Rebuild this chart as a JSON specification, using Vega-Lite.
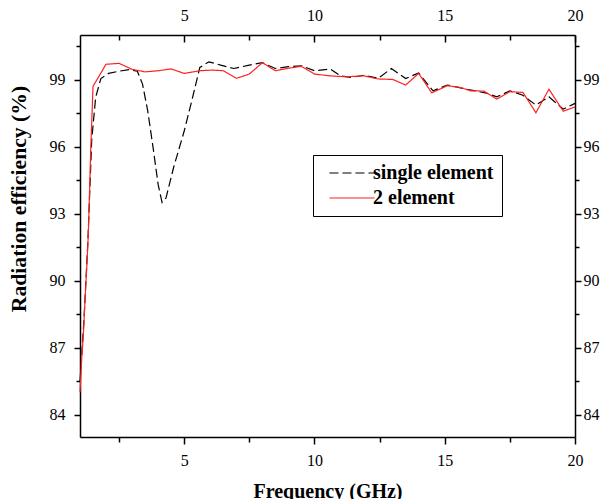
{
  "$schema": "https://vega.github.io/schema/vega-lite/v6.json",
  "width": 495,
  "height": 402,
  "autosize": {"type": "none"},
  "padding": {"left": 80, "top": 35, "right": 27, "bottom": 62},
  "background": "white",
  "config": {
    "view": {"stroke": null},
    "axis": {
      "grid": false,
      "domainColor": "black",
      "domainWidth": 1.5,
      "tickColor": "black",
      "tickWidth": 1.5,
      "labelFont": "Liberation Serif",
      "labelFontSize": 16,
      "labelColor": "black",
      "labelFlush": false,
      "labelOverlap": false,
      "titleFont": "Liberation Serif",
      "titleFontSize": 20,
      "titleFontWeight": "bold",
      "titleColor": "black"
    },
    "legend": {
      "labelFont": "Liberation Serif",
      "labelFontSize": 20,
      "labelFontWeight": "bold",
      "labelColor": "black"
    }
  },
  "data": {
    "values": [
      {"f": 1.0, "e": 85.5, "s": "single element"},
      {"f": 1.15, "e": 88.2, "s": "single element"},
      {"f": 1.3, "e": 91.7, "s": "single element"},
      {"f": 1.45, "e": 96.3, "s": "single element"},
      {"f": 1.6, "e": 98.2, "s": "single element"},
      {"f": 1.8, "e": 99.05, "s": "single element"},
      {"f": 2.1, "e": 99.28, "s": "single element"},
      {"f": 2.5, "e": 99.38, "s": "single element"},
      {"f": 2.9, "e": 99.45, "s": "single element"},
      {"f": 3.2, "e": 99.38, "s": "single element"},
      {"f": 3.4, "e": 98.8, "s": "single element"},
      {"f": 3.6, "e": 97.6, "s": "single element"},
      {"f": 3.8, "e": 96.0, "s": "single element"},
      {"f": 4.0, "e": 94.3, "s": "single element"},
      {"f": 4.15, "e": 93.5, "s": "single element"},
      {"f": 4.3, "e": 93.7, "s": "single element"},
      {"f": 4.6, "e": 95.1, "s": "single element"},
      {"f": 5.0, "e": 96.7, "s": "single element"},
      {"f": 5.3, "e": 98.1, "s": "single element"},
      {"f": 5.6, "e": 99.55, "s": "single element"},
      {"f": 5.95, "e": 99.8, "s": "single element"},
      {"f": 6.4, "e": 99.65, "s": "single element"},
      {"f": 6.9, "e": 99.5, "s": "single element"},
      {"f": 7.5, "e": 99.65, "s": "single element"},
      {"f": 8.0, "e": 99.76, "s": "single element"},
      {"f": 8.5, "e": 99.5, "s": "single element"},
      {"f": 9.0, "e": 99.58, "s": "single element"},
      {"f": 9.5, "e": 99.62, "s": "single element"},
      {"f": 10.0, "e": 99.4, "s": "single element"},
      {"f": 10.6, "e": 99.48, "s": "single element"},
      {"f": 11.0, "e": 99.17, "s": "single element"},
      {"f": 11.4, "e": 99.1, "s": "single element"},
      {"f": 11.9, "e": 99.2, "s": "single element"},
      {"f": 12.45, "e": 99.06, "s": "single element"},
      {"f": 12.95, "e": 99.5, "s": "single element"},
      {"f": 13.5, "e": 99.05, "s": "single element"},
      {"f": 14.0, "e": 99.3, "s": "single element"},
      {"f": 14.55, "e": 98.5, "s": "single element"},
      {"f": 15.1, "e": 98.76, "s": "single element"},
      {"f": 15.8, "e": 98.58, "s": "single element"},
      {"f": 16.6, "e": 98.4, "s": "single element"},
      {"f": 17.0, "e": 98.23, "s": "single element"},
      {"f": 17.5, "e": 98.5, "s": "single element"},
      {"f": 18.0, "e": 98.3, "s": "single element"},
      {"f": 18.5, "e": 97.86, "s": "single element"},
      {"f": 19.0, "e": 98.23, "s": "single element"},
      {"f": 19.55, "e": 97.68, "s": "single element"},
      {"f": 20.0, "e": 97.94, "s": "single element"},
      {"f": 1.0, "e": 85.0, "s": "2 element"},
      {"f": 1.07, "e": 86.6, "s": "2 element"},
      {"f": 1.13, "e": 87.6, "s": "2 element"},
      {"f": 1.2, "e": 89.3, "s": "2 element"},
      {"f": 1.26, "e": 90.6, "s": "2 element"},
      {"f": 1.32, "e": 92.1, "s": "2 element"},
      {"f": 1.41, "e": 95.8, "s": "2 element"},
      {"f": 1.5, "e": 98.7, "s": "2 element"},
      {"f": 2.0, "e": 99.69, "s": "2 element"},
      {"f": 2.5, "e": 99.73, "s": "2 element"},
      {"f": 3.0, "e": 99.46, "s": "2 element"},
      {"f": 3.5, "e": 99.35, "s": "2 element"},
      {"f": 4.0, "e": 99.4, "s": "2 element"},
      {"f": 4.5, "e": 99.48, "s": "2 element"},
      {"f": 5.0, "e": 99.28, "s": "2 element"},
      {"f": 5.6, "e": 99.4, "s": "2 element"},
      {"f": 6.1, "e": 99.43, "s": "2 element"},
      {"f": 6.5, "e": 99.4, "s": "2 element"},
      {"f": 7.0, "e": 99.06, "s": "2 element"},
      {"f": 7.5, "e": 99.25, "s": "2 element"},
      {"f": 8.0, "e": 99.76, "s": "2 element"},
      {"f": 8.5, "e": 99.4, "s": "2 element"},
      {"f": 9.0, "e": 99.51, "s": "2 element"},
      {"f": 9.5, "e": 99.6, "s": "2 element"},
      {"f": 10.0, "e": 99.25, "s": "2 element"},
      {"f": 10.6, "e": 99.17, "s": "2 element"},
      {"f": 11.2, "e": 99.13, "s": "2 element"},
      {"f": 11.9, "e": 99.17, "s": "2 element"},
      {"f": 12.45, "e": 99.03, "s": "2 element"},
      {"f": 13.0, "e": 99.01, "s": "2 element"},
      {"f": 13.5, "e": 98.76, "s": "2 element"},
      {"f": 14.0, "e": 99.28, "s": "2 element"},
      {"f": 14.5, "e": 98.41, "s": "2 element"},
      {"f": 15.1, "e": 98.73, "s": "2 element"},
      {"f": 15.6, "e": 98.65, "s": "2 element"},
      {"f": 16.0, "e": 98.5, "s": "2 element"},
      {"f": 16.5, "e": 98.49, "s": "2 element"},
      {"f": 17.0, "e": 98.13, "s": "2 element"},
      {"f": 17.5, "e": 98.46, "s": "2 element"},
      {"f": 18.0, "e": 98.43, "s": "2 element"},
      {"f": 18.5, "e": 97.52, "s": "2 element"},
      {"f": 19.0, "e": 98.57, "s": "2 element"},
      {"f": 19.55, "e": 97.59, "s": "2 element"},
      {"f": 20.0, "e": 97.78, "s": "2 element"}
    ]
  },
  "layer": [
    {
      "mark": {"type": "line", "strokeWidth": 1.2},
      "encoding": {
        "x": {
          "field": "f", "type": "quantitative",
          "scale": {"domain": [1, 20], "nice": false, "zero": false},
          "axis": {
            "orient": "bottom",
            "title": "Frequency (GHz)",
            "values": [2.5, 5, 7.5, 10, 12.5, 15, 17.5, 20],
            "labelExpr": "datum.value % 5 == 0 ? datum.label : ''",
            "tickSize": {"condition": {"test": "datum.value % 5 == 0", "value": 7}, "value": 5},
            "labelPadding": 8,
            "titleX": 247.5,
            "titleY": 60,
            "titleAlign": "center",
            "titleBaseline": "alphabetic"
          }
        },
        "y": {
          "field": "e", "type": "quantitative",
          "scale": {"domain": [83, 101], "nice": false, "zero": false},
          "axis": {
            "orient": "left",
            "title": "Radiation efficiency (%)",
            "values": [84, 85.5, 87, 88.5, 90, 91.5, 93, 94.5, 96, 97.5, 99, 100.5],
            "labelExpr": "(datum.value - 84) % 3 == 0 ? datum.label : ''",
            "tickSize": {"condition": {"test": "(datum.value - 84) % 3 == 0", "value": 6}, "value": 4},
            "labelPadding": 9,
            "titleFontSize": 21.7,
            "titleX": -62,
            "titleY": 163.5,
            "titleAngle": 270,
            "titleAlign": "center",
            "titleBaseline": "middle"
          }
        },
        "color": {
          "field": "s", "type": "nominal",
          "scale": {"domain": ["single element", "2 element"], "range": ["#000000", "#ff2020"]},
          "legend": {
            "title": null,
            "orient": "none",
            "legendX": 233,
            "legendY": 120,
            "direction": "vertical",
            "padding": 8,
            "strokeColor": "black",
            "fillColor": "white",
            "symbolType": "M-4,0H4",
            "symbolSize": 127,
            "symbolStrokeWidth": 1.2,
            "symbolOffset": 21,
            "labelOffset": 11,
            "rowPadding": 5,
            "encode": {
              "symbols": {"update": {"strokeDash": {"signal": "datum.label === 'single element' ? [4, 3] : [1, 0]"}}}
            }
          }
        },
        "strokeDash": {
          "field": "s", "type": "nominal",
          "scale": {"domain": ["single element", "2 element"], "range": [[9, 4], [1, 0]]},
          "legend": null
        }
      }
    },
    {
      "mark": {"type": "line", "opacity": 0},
      "encoding": {
        "x": {
          "field": "f", "type": "quantitative",
          "scale": {"domain": [1, 20], "nice": false, "zero": false},
          "axis": {
            "orient": "top",
            "title": null,
            "values": [2.5, 5, 7.5, 10, 12.5, 15, 17.5, 20],
            "labelExpr": "datum.value % 5 == 0 ? datum.label : ''",
            "tickSize": {"condition": {"test": "datum.value % 5 == 0", "value": -7}, "value": -5},
            "labelPadding": 19
          }
        },
        "y": {
          "field": "e", "type": "quantitative",
          "scale": {"domain": [83, 101], "nice": false, "zero": false},
          "axis": {
            "orient": "right",
            "title": null,
            "values": [84, 85.5, 87, 88.5, 90, 91.5, 93, 94.5, 96, 97.5, 99, 100.5],
            "labelExpr": "(datum.value - 84) % 3 == 0 ? datum.label : ''",
            "tickSize": {"condition": {"test": "(datum.value - 84) % 3 == 0", "value": 6}, "value": 4},
            "labelPadding": 2
          }
        },
        "detail": {"field": "s", "type": "nominal"}
      }
    }
  ],
  "resolve": {"axis": {"x": "independent", "y": "independent"}}
}
